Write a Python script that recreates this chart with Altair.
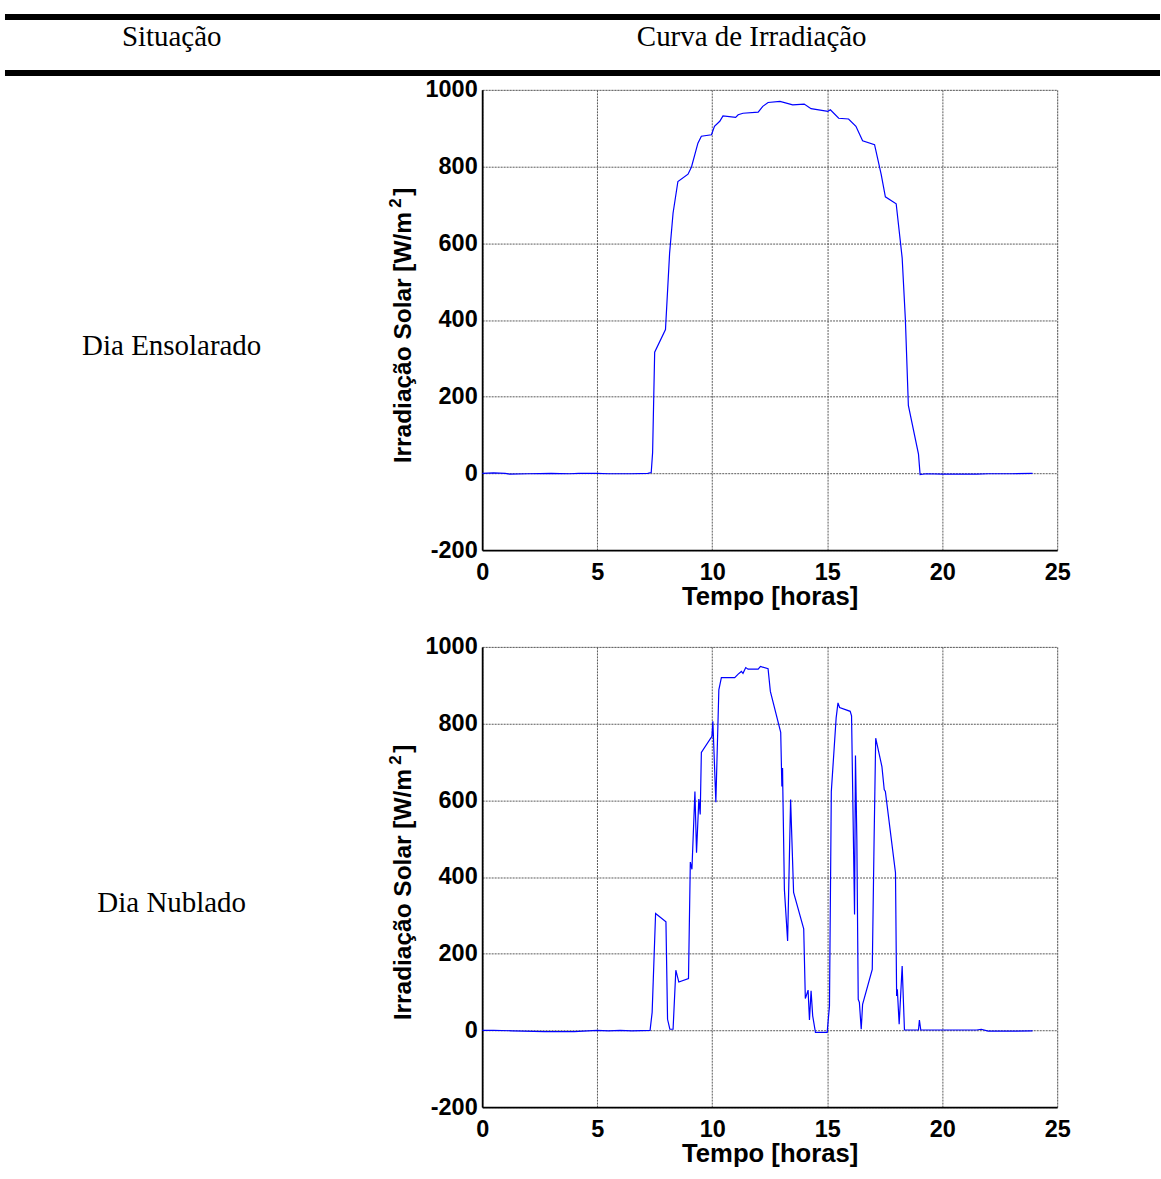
import altair as alt
import pandas as pd

# ---------------- data ----------------
sunny_hours = [0.0, 0.5, 1.0, 1.2, 2.0, 3.0, 3.8, 4.2, 5.0, 5.5, 6.5, 7.2, 7.35, 7.41, 7.5,
               7.97, 8.15, 8.3, 8.51, 8.95, 9.1, 9.38, 9.53, 9.97, 10.1, 10.33, 10.47, 11.02,
               11.13, 11.34, 12.0, 12.2, 12.43, 12.95, 13.5, 14.0, 14.3, 15.03, 15.14, 15.5,
               15.93, 16.25, 16.54, 17.06, 17.35, 17.53, 18.0, 18.26, 18.4, 18.53, 18.97,
               19.04, 19.3, 20.0, 21.5, 22.0, 23.0, 23.93]
sunny_irr = [0, 1, 0, -2, -1, 0, -1, 0, 0, -1, -1, 0, 2, 54, 316,
             375, 575, 679, 761, 780, 799, 861, 879, 883, 905, 918, 932, 928,
             935, 939, 942, 957, 967, 970, 961, 963, 951, 944, 948, 926,
             924, 905, 867, 857, 779, 721, 703, 562, 401, 177, 50,
             -3, -1, -2, -2, -1, -1, 0]

cloudy_hours = [0.0, 0.5, 1.3, 2.7, 4.0, 5.0, 5.5, 6.0, 6.5, 7.3, 7.39, 7.54, 7.99, 8.06,
                8.16, 8.3, 8.42, 8.55, 8.97, 9.05, 9.12, 9.25, 9.32, 9.42, 9.48, 9.53, 9.99,
                10.03, 10.16, 10.29, 10.4, 10.98, 11.13, 11.27, 11.34, 11.46, 11.56, 12.0,
                12.1, 12.43, 12.53, 12.98, 13.03, 13.06, 13.07, 13.14, 13.28, 13.41, 13.54,
                13.98, 14.05, 14.09, 14.17, 14.23, 14.3, 14.37, 14.49, 15.0, 15.1, 15.18,
                15.39, 15.47, 15.54, 16.0, 16.06, 16.19, 16.23, 16.29, 16.35, 16.4, 16.48,
                16.54, 16.96, 17.04, 17.11, 17.38, 17.48, 17.53, 17.97, 18.02, 18.05, 18.13,
                18.26, 18.36, 18.97, 19.01, 19.07, 21.5, 21.7, 22.0, 23.0, 23.93]
cloudy_irr = [0, 0, -1, -3, -3, 0, -1, 0, -1, 0, 47, 305, 283, 29,
              3, 3, 157, 126, 135, 439, 420, 623, 463, 603, 563, 725, 767,
              806, 595, 888, 920, 920, 929, 936, 931, 946, 942, 942,
              949, 943, 884, 777, 636, 684, 636, 367, 233, 602, 360,
              265, 83, 90, 105, 27, 103, 38, -5, -5, 64, 623,
              815, 854, 842, 832, 820, 302, 717, 498, 81, 73, 3,
              68, 159, 498, 762, 688, 628, 623, 411, 90, 107, 16,
              168, 1, 1, 27, 1, 1, 3, -2, -2, -1]

x_ticks = [0, 5, 10, 15, 20, 25]
y_ticks = [-200, 0, 200, 400, 600, 800, 1000]

header_left = "Situação"
header_right = "Curva de Irradiação"
row_labels = ["Dia Ensolarado", "Dia Nublado"]
x_title = "Tempo [horas]"
y_title_main = "Irradiação Solar [W/m"
y_title_sup = "2"
y_title_end = "]"

W, H = 576, 461
SERIF = "Liberation Serif"
SANS = "Liberation Sans"
ONE = pd.DataFrame({"k": [0]})
GRID = "#5a5a5a"


def text_layer(txt, x, y, size, font, **kw):
    return alt.Chart(ONE).mark_text(text=txt, font=font, fontSize=size, color="black", **kw).encode(
        x=alt.value(x), y=alt.value(y))


def rect_layer(x, x2, y, y2, opacity=1.0, color="black"):
    return alt.Chart(ONE).mark_rect(color=color, opacity=opacity).encode(
        x=alt.value(x), x2=alt.value(x2), y=alt.value(y), y2=alt.value(y2))


def panel(hours, vals, label, first):
    df = pd.DataFrame({"Tempo": hours, "Irr": vals})
    line = alt.Chart(df).mark_line(color="#0000ff", strokeWidth=1.2, clip=True).encode(
        x=alt.X("Tempo:Q",
                scale=alt.Scale(domain=[0, 25], nice=False, zero=False),
                axis=alt.Axis(values=x_ticks, labelExpr="'' + datum.value", grid=True,
                              gridColor=GRID, gridDash=[2, 1], gridWidth=1,
                              domainColor="black", domainWidth=1.8,
                              ticks=False, tickSize=0, labelFont=SANS, labelFontSize=23.5,
                              labelFontWeight="bold", labelColor="black", labelPadding=10,
                              labelFlush=False, labelOverlap=False, title=x_title,
                              titleFont=SANS, titleFontSize=25.7, titleFontWeight="bold",
                              titleColor="black", titlePadding=1)),
        y=alt.Y("Irr:Q",
                scale=alt.Scale(domain=[-200, 1000], nice=False, zero=False),
                axis=alt.Axis(values=y_ticks, labelExpr="'' + datum.value", grid=True,
                              gridColor=GRID, gridDash=[2, 1], gridWidth=1,
                              domainColor="black", domainWidth=1.8,
                              ticks=False, tickSize=0, labelFont=SANS, labelFontSize=23.5,
                              labelFontWeight="bold", labelColor="black", labelPadding=5,
                              labelFlush=False, labelOverlap=False, title=None)),
    )
    layers = [line]
    # y axis title pieces (rotated)
    layers.append(text_layer(y_title_main, -71, 374, 24.5, SANS, angle=270, align="left",
                             baseline="alphabetic", fontWeight="bold"))
    layers.append(text_layer(y_title_sup, -81, 118, 17, SANS, angle=270, align="left",
                             baseline="alphabetic", fontWeight="bold"))
    layers.append(text_layer(y_title_end, -71, 106, 24.5, SANS, angle=270, align="left",
                             baseline="alphabetic", fontWeight="bold"))
    # row label
    layers.append(text_layer(label, -311, 257, 29, SERIF, align="center", baseline="middle"))
    if first:
        layers.append(rect_layer(-478, 679, -76, -70))
        layers.append(rect_layer(-478, 679, -20, -14))
        layers.append(text_layer(header_left, -311, -52.5, 29, SERIF, align="center", baseline="middle"))
        layers.append(text_layer(header_right, 270, -52.5, 29, SERIF, align="center", baseline="middle"))
        # invisible bottom bound
        layers.append(rect_layer(-478, 679, 539, 539, opacity=0, color="white"))
    else:
        # invisible top bound
        layers.append(rect_layer(-478, 679, -17, -17, opacity=0, color="white"))
    return alt.layer(*layers).properties(width=W, height=H)


chart = alt.vconcat(
    panel(sunny_hours, sunny_irr, row_labels[0], True),
    panel(cloudy_hours, cloudy_irr, row_labels[1], False),
    spacing=0,
).properties(
    padding={"left": 4, "top": 12, "right": 0, "bottom": 0}
).configure_view(
    stroke="black", strokeWidth=1.5
).configure(background="white")

chart.save("out.html", embed_options={"renderer": "svg", "actions": False})
